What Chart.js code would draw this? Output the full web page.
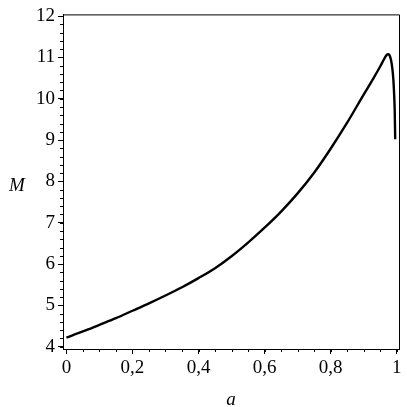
<!DOCTYPE html>
<html>
<head>
<meta charset="UTF-8" />
<title>M(a)</title>
<script src="https://cdn.jsdelivr.net/npm/chart.js"></script>
<style>
  body { margin: 0; background: #fff; }
  .wrap { width: 407px; height: 407px; }
</style>
</head>
<body>
<div class="wrap"><canvas id="grafico"></canvas></div>
<script>
  // valores
  const aValores = [0, 0.05, 0.1, 0.15, 0.2, 0.25, 0.3, 0.35, 0.4, 0.45, 0.5, 0.55, 0.6, 0.65, 0.7,
    0.75, 0.8, 0.85, 0.9, 0.93, 0.95, 0.96, 0.966, 0.971, 0.975, 0.979, 0.983, 0.987, 0.99, 0.992, 0.994, 0.9955];
  const mValores = [4.22, 4.37, 4.53, 4.69, 4.87, 5.05, 5.24, 5.44, 5.66, 5.90, 6.19, 6.52, 6.88, 7.27, 7.71,
    8.21, 8.79, 9.42, 10.10, 10.50, 10.78, 10.93, 11.02, 11.07, 11.08, 11.04, 10.93, 10.72, 10.45, 10.15, 9.72, 9.02];
  const xTicks = [0, 0.2, 0.4, 0.6, 0.8, 1];
  const yTicks = [4, 5, 6, 7, 8, 9, 10, 11, 12];
  const xMenores = [];
  for (let i = 0; i <= 20; i++) xMenores.push(i * 0.05);
  const yMenores = [];
  for (let i = 0; i <= 40; i++) yMenores.push(4 + i * 0.2);

  const fonte = { family: "'Liberation Serif', 'DejaVu Serif', serif", size: 19 };

  const pontos = aValores.map((a, i) => ({ x: a, y: mValores[i] }));

  // moldura, ticks menores e títulos dos eixos
  const extras = {
    id: 'extras',
    afterDraw(chart) {
      const ctx = chart.ctx;
      const area = chart.chartArea;
      const sx = chart.scales.x;
      const sy = chart.scales.y;
      ctx.save();
      ctx.strokeStyle = '#000';
      ctx.lineWidth = 1;
      ctx.beginPath();
      ctx.moveTo(area.left, area.top + 0.5);
      ctx.lineTo(area.right + 0.5, area.top + 0.5);
      ctx.lineTo(area.right + 0.5, area.bottom);
      ctx.stroke();
      ctx.beginPath();
      xMenores.forEach(v => {
        const px = Math.round(sx.getPixelForValue(v)) + 0.5;
        ctx.moveTo(px, area.bottom);
        ctx.lineTo(px, area.bottom + 3);
      });
      yMenores.forEach(v => {
        const py = Math.round(sy.getPixelForValue(v)) + 0.5;
        ctx.moveTo(area.left, py);
        ctx.lineTo(area.left - 3, py);
      });
      ctx.stroke();
      ctx.fillStyle = '#000';
      ctx.font = "italic 19px 'Liberation Serif', serif";
      ctx.textAlign = 'center';
      ctx.textBaseline = 'middle';
      ctx.fillText('M', 17, (area.top + area.bottom) / 2 + 4);
      ctx.fillText('a', (area.left + area.right) / 2, 400);
      ctx.restore();
    }
  };

  new Chart(document.getElementById('grafico').getContext('2d'), {
    type: 'line',
    data: {
      datasets: [{
        data: pontos,
        borderColor: '#000',
        borderWidth: 2.4,
        pointRadius: 0,
        fill: false,
        cubicInterpolationMode: 'monotone'
      }]
    },
    options: {
      responsive: true,
      maintainAspectRatio: false,
      animation: false,
      layout: { padding: { left: 28, right: 8, top: 14, bottom: 23 } },
      plugins: { legend: { display: false }, tooltip: { enabled: false } },
      scales: {
        x: {
          type: 'linear',
          min: -0.0103,
          max: 1.007,
          afterBuildTicks: s => { s.ticks = xTicks.map(v => ({ value: v })); },
          afterFit: s => { s.height = 35; },
          grid: { drawOnChartArea: false, drawTicks: true, tickLength: 5, color: '#000' },
          border: { display: true, color: '#000', width: 1 },
          ticks: {
            color: '#000',
            font: fonte,
            padding: 3,
            maxRotation: 0,
            callback: v => String(Math.round(v * 10) / 10).replace('.', ',')
          }
        },
        y: {
          type: 'linear',
          min: 3.945,
          max: 12.04,
          afterBuildTicks: s => { s.ticks = yTicks.map(v => ({ value: v })); },
          afterFit: s => { s.width = 35; },
          grid: { drawOnChartArea: false, drawTicks: true, tickLength: 5, color: '#000' },
          border: { display: true, color: '#000', width: 1 },
          ticks: { color: '#000', font: fonte, padding: 3 }
        }
      }
    },
    plugins: [extras]
  });
</script>
</body>
</html>
